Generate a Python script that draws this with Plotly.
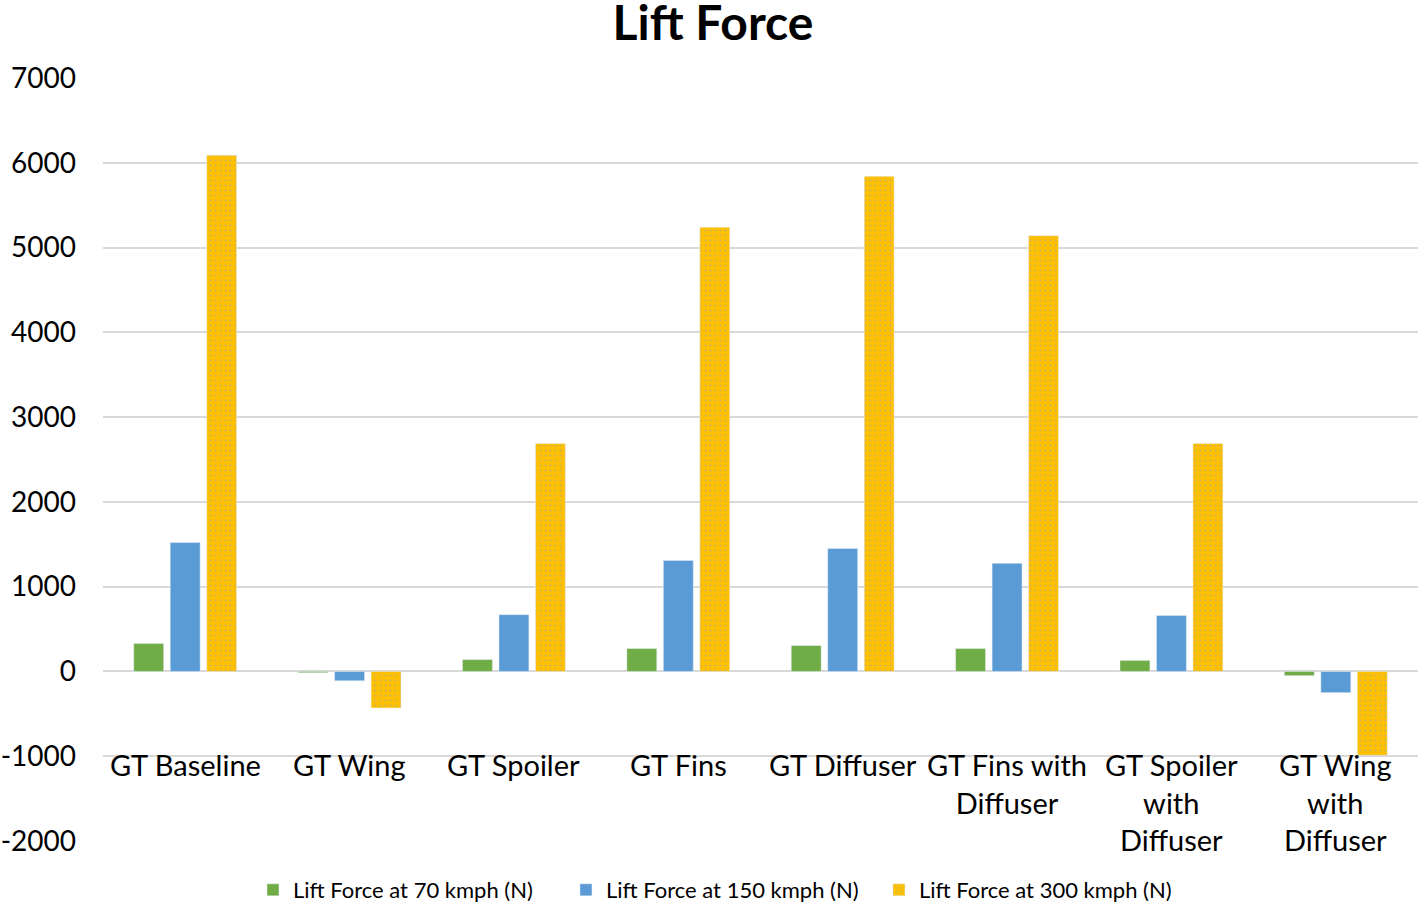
import plotly.graph_objects as go

categories = ["GT Baseline", "GT Wing", "GT Spoiler", "GT Fins", "GT Diffuser",
              "GT Fins with<br>Diffuser", "GT Spoiler<br>with<br>Diffuser", "GT Wing<br>with<br>Diffuser"]
lift_70 = [330, -15, 140, 270, 305, 270, 130, -50]
lift_150 = [1520, -110, 670, 1310, 1450, 1275, 660, -250]
lift_300 = [6090, -430, 2690, 5240, 5840, 5140, 2690, -990]
series_names = ["Lift Force at 70 kmph (N)", "Lift Force at 150 kmph (N)", "Lift Force at 300 kmph (N)"]
y_ticks = list(range(-2000, 7001, 1000))
y_ticktext = [str(v) for v in y_ticks]

FONT = "Lato"
W, H = 1418, 902
x_idx = list(range(len(categories)))

fig = go.Figure()
fig.add_trace(go.Bar(x=x_idx, y=lift_70, name=series_names[0], marker_color="#70ad47"))
fig.add_trace(go.Bar(x=x_idx, y=lift_150, name=series_names[1], marker_color="#5b9bd5"))
fig.add_trace(go.Bar(x=x_idx, y=lift_300, name=series_names[2], marker_color="#ffc000",
                     marker_pattern=dict(shape=".", fgcolor="#8fa6c4", size=5, solidity=0.15)))

for i, c in enumerate(categories):
    fig.add_annotation(x=i, y=-1000, xref="x", yref="y", text=c, showarrow=False,
                       yanchor="top", yshift=11, font=dict(family=FONT, size=29, color="#000"),
                       align="center")

fig.update_layout(
    width=W, height=H,
    paper_bgcolor="white", plot_bgcolor="white",
    margin=dict(l=103, r=0, t=78, b=61),
    title=dict(text="<b>Lift Force</b>", x=713 / W, xanchor="center", y=1 - 23 / H,
               yanchor="middle", yref="container",
               font=dict(family=FONT, size=48, color="#000")),
    barmode="group", bargap=0.334, bargroupgap=0.18,
    showlegend=True,
    legend=dict(orientation="h", x=(716 - 48) / W, xanchor="center", y=12 / H,
                yanchor="middle", yref="container", font=dict(family=FONT, size=22, color="#000"),
                entrywidth=268, entrywidthmode="pixels", traceorder="normal"),
    xaxis=dict(range=[-0.5, 7.5], showticklabels=False, showgrid=False, zeroline=False,
               showline=False, ticks="", automargin=False),
    yaxis=dict(range=[-2000, 7000], tickvals=y_ticks, ticktext=y_ticktext, showgrid=True,
               gridcolor="#d9d9d9", gridwidth=1.5, zeroline=True, zerolinecolor="#d9d9d9",
               zerolinewidth=1.5, tickfont=dict(family=FONT, size=28, color="#000"),
               ticklabelstandoff=26, showline=False, ticks="", automargin=False),
)

fig.write_html("out.html", config={"displayModeBar": False},
               post_script="document.body.style.margin='0';document.body.style.overflow='hidden';")
